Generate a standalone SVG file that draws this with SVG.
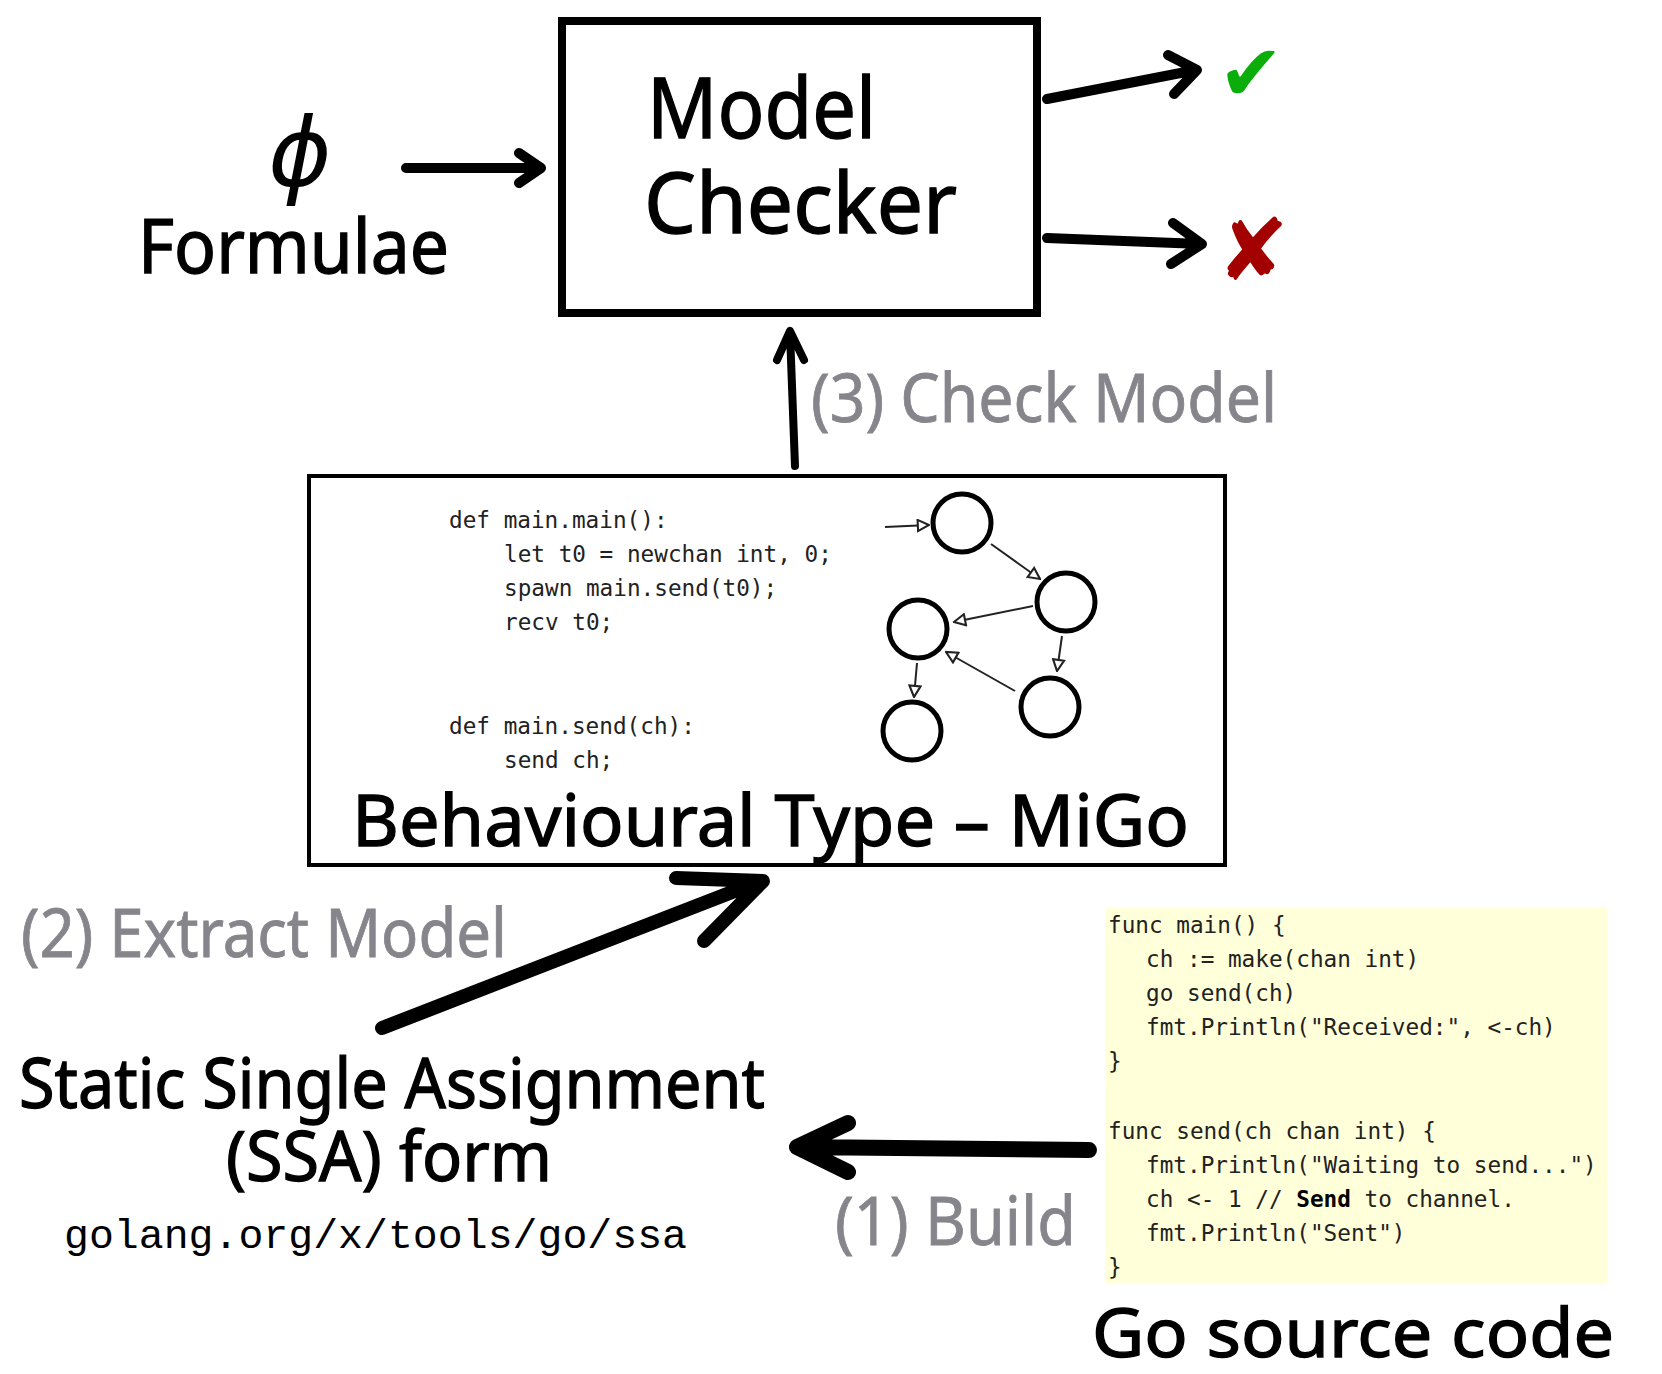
<svg xmlns="http://www.w3.org/2000/svg" width="1662" height="1374" viewBox="0 0 1662 1374">
<style>
.big{font-family:"Noto Sans","DejaVu Sans",sans-serif;fill:#000;stroke:#000;stroke-width:1.3}
.gray{font-family:"Noto Sans","DejaVu Sans",sans-serif;fill:#85858b;stroke:#85858b;stroke-width:0.8}
.code{font-family:"DejaVu Sans Mono",monospace;font-size:22.7px;fill:#222}
.thick{fill:none;stroke:#000;stroke-linecap:round;stroke-linejoin:round}
.thin{fill:none;stroke:#222;stroke-width:2}
.node{fill:#fff;stroke:#000;stroke-width:5}
</style>
<defs>
<marker id="tri" viewBox="0 0 10 10" refX="9" refY="5" markerWidth="7" markerHeight="7" orient="auto" markerUnits="strokeWidth">
<path d="M1,1 L9,5 L1,9 Z" fill="#fff" stroke="#222" stroke-width="1.5"/>
</marker>
</defs>
<rect width="1662" height="1374" fill="#fff"/>

<g id="model-checker">
<rect x="562" y="21" width="475" height="292" fill="#fff" stroke="#000" stroke-width="8"/>
<text class="big" x="647" y="138" font-size="84" textLength="229" lengthAdjust="spacingAndGlyphs">Model</text>
<text class="big" x="644" y="233" font-size="84" textLength="313" lengthAdjust="spacingAndGlyphs">Checker</text>
</g>

<g id="formulae">
<text x="300" y="186" font-size="96" font-style="italic" text-anchor="middle" font-family="DejaVu Sans" fill="#000">ϕ</text>
<text class="big" x="138" y="273" font-size="74" textLength="311" lengthAdjust="spacingAndGlyphs">Formulae</text>
</g>

<g id="ok">
<text x="1251" y="100" font-size="78" fill="#0aad0a" text-anchor="middle" font-family="DejaVu Sans">✔</text>
</g>
<g id="fail">
<text x="1253" y="280" font-size="86" fill="#a30000" text-anchor="middle" font-family="DejaVu Sans">✘</text>
</g>

<g id="behavioural-type">
<rect x="309" y="476" width="916" height="389" fill="#fff" stroke="#000" stroke-width="4"/>
<text class="code" font-size="23.4" x="449" y="528">def main.main():</text>
<text class="code" font-size="23.4" x="504" y="562">let t0 = newchan int, 0;</text>
<text class="code" font-size="23.4" x="504" y="596">spawn main.send(t0);</text>
<text class="code" font-size="23.4" x="504" y="630">recv t0;</text>
<text class="code" font-size="23.4" x="449" y="734">def main.send(ch):</text>
<text class="code" font-size="23.4" x="504" y="768">send ch;</text>
<g id="graph">
<line class="thin" x1="885" y1="527" x2="929" y2="525" marker-end="url(#tri)"/>
<line class="thin" x1="991" y1="544" x2="1040" y2="579" marker-end="url(#tri)"/>
<line class="thin" x1="1033" y1="606" x2="954" y2="622" marker-end="url(#tri)"/>
<line class="thin" x1="1062" y1="636" x2="1057" y2="671" marker-end="url(#tri)"/>
<line class="thin" x1="1015" y1="691" x2="946" y2="652" marker-end="url(#tri)"/>
<line class="thin" x1="917" y1="663" x2="914" y2="697" marker-end="url(#tri)"/>
<circle class="node" cx="962" cy="523" r="29"/>
<circle class="node" cx="1066" cy="602" r="29"/>
<circle class="node" cx="918" cy="629" r="29"/>
<circle class="node" cx="1050" cy="707" r="29"/>
<circle class="node" cx="912" cy="731" r="29"/>
</g>
<text class="big" x="352" y="846" font-size="72" textLength="837" lengthAdjust="spacingAndGlyphs">Behavioural Type – MiGo</text>
</g>

<g id="ssa">
<text class="big" x="392" y="1108" font-size="70" text-anchor="middle" textLength="746" lengthAdjust="spacingAndGlyphs">Static Single Assignment</text>
<text class="big" x="389" y="1181" font-size="70" text-anchor="middle" textLength="326" lengthAdjust="spacingAndGlyphs">(SSA) form</text>
<text x="64" y="1248" font-size="41" font-family="Liberation Mono,monospace" fill="#000" textLength="623" lengthAdjust="spacingAndGlyphs">golang.org/x/tools/go/ssa</text>
</g>

<g id="go-source">
<rect x="1105" y="908" width="502" height="375" fill="#ffffd9"/>
<text class="code" x="1108" y="933">func main() {</text>
<text class="code" x="1146" y="967">ch := make(chan int)</text>
<text class="code" x="1146" y="1001">go send(ch)</text>
<text class="code" x="1146" y="1035">fmt.Println("Received:", &lt;-ch)</text>
<text class="code" x="1108" y="1069">}</text>
<text class="code" x="1108" y="1139">func send(ch chan int) {</text>
<text class="code" x="1146" y="1173">fmt.Println("Waiting to send...")</text>
<text class="code" x="1146" y="1207">ch &lt;- 1 // <tspan font-weight="bold" fill="#000">Send</tspan> to channel.</text>
<text class="code" x="1146" y="1241">fmt.Println("Sent")</text>
<text class="code" x="1108" y="1275">}</text>
<text class="big" x="1092" y="1357" font-size="68" textLength="522" lengthAdjust="spacingAndGlyphs">Go source code</text>
</g>

<g id="connectors">
<path class="thick" stroke-width="10" d="M406,168 L540,168 M519,153 L541,168 L519,183"/>
<path class="thick" stroke-width="10" d="M1047,99 L1196,70 M1168,55 L1197,70 L1174,94"/>
<path class="thick" stroke-width="10" d="M1047,238 L1201,244 M1173,223 L1202,244 L1171,264"/>
<path class="thick" stroke-width="8" d="M795,466 L790,333 M777,360 L790,331 L804,360"/>
<path class="thick" stroke-width="14" d="M382,1028 L758,882 M676,878 L763,881 L704,941"/>
<path class="thick" stroke-width="16" d="M1089,1150 L800,1147 M848,1123 L797,1147 L848,1172"/>
<text class="gray" x="811" y="422" font-size="68" textLength="466" lengthAdjust="spacingAndGlyphs">(3) Check Model</text>
<text class="gray" x="21" y="957" font-size="68" textLength="486" lengthAdjust="spacingAndGlyphs">(2) Extract Model</text>
<text class="gray" x="835" y="1245" font-size="68" textLength="241" lengthAdjust="spacingAndGlyphs">(1) Build</text>
</g>
</svg>
